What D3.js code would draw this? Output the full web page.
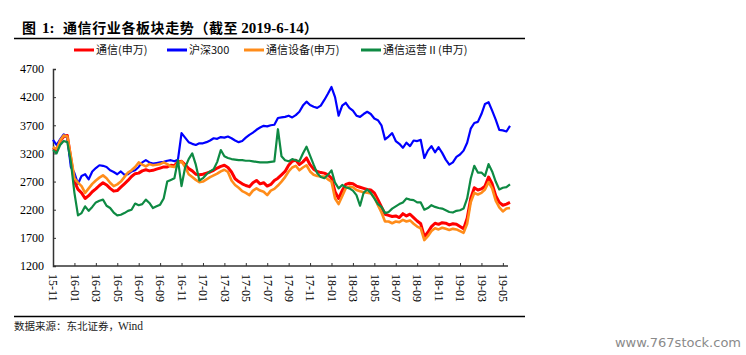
<!DOCTYPE html>
<html><head><meta charset="utf-8">
<script src="https://cdn.jsdelivr.net/npm/d3@7/dist/d3.min.js"></script>
<style>
body{margin:0;background:#fff;}
svg{display:block;}
.serif{font-family:"Liberation Serif","Times New Roman",serif;}
.cjk{font-family:"Noto Sans CJK SC","Noto Sans",sans-serif;}
</style></head>
<body><svg id="c" width="746" height="355"></svg>
<script>
const tickLabels = ["15-11","16-01","16-03","16-05","16-07","16-09","16-11","17-01","17-03","17-05","17-07","17-09","17-11","18-01","18-03","18-05","18-07","18-09","18-11","19-01","19-03","19-05"];
const yTicks = [1200,1700,2200,2700,3200,3700,4200,4700];
const seriesNames = ["通信(申万)","沪深300","通信设备(申万)","通信运营Ⅱ(申万)"];
const seriesColors = ["#FF0000","#0000FF","#FF8C1A","#0E8A43"];

const telecom = [3300,3260,3420,3500,3520,3100,2700,2560,2500,2400,2450,2520,2570,2630,2680,2640,2580,2530,2540,2600,2660,2720,2790,2840,2850,2890,2910,2890,2900,2920,2940,2960,2960,2990,2980,3050,3060,3000,2930,2890,2830,2820,2830,2850,2870,2900,2940,2970,2990,2950,2870,2750,2700,2660,2630,2610,2680,2720,2660,2680,2620,2650,2720,2760,2820,2880,2990,3060,3080,3000,3050,3120,3000,2920,2880,2860,2850,2820,2760,2520,2400,2540,2650,2670,2660,2620,2600,2580,2560,2550,2500,2380,2250,2120,2100,2080,2090,2060,2130,2090,2120,2060,2000,1950,1720,1800,1900,1960,1940,1970,1960,1930,1950,1940,1900,1860,2050,2400,2590,2550,2570,2620,2780,2660,2450,2330,2280,2300,2330];
const hs300 = [3440,3350,3450,3540,3480,2960,2850,2660,2800,2830,2740,2880,2940,2990,2980,2960,2900,2870,2830,2880,2820,2830,2880,2900,2960,3040,3080,3040,3020,3030,3040,3050,3070,3080,3060,3090,3560,3480,3400,3370,3350,3380,3380,3400,3430,3470,3460,3490,3480,3500,3470,3430,3400,3420,3480,3530,3570,3620,3660,3690,3680,3700,3710,3830,3840,3850,3870,3840,3880,3940,4050,4120,4060,4030,4010,4050,4150,4260,4380,4200,3870,4050,4100,4010,3960,3870,3850,3900,3940,3900,3820,3790,3700,3450,3500,3560,3420,3370,3300,3390,3330,3430,3420,3440,3120,3250,3330,3220,3310,3210,3090,3000,3040,3140,3180,3250,3390,3640,3740,3760,3900,4080,4110,3960,3800,3620,3610,3590,3690];
const equipment = [3310,3280,3430,3520,3500,3150,2760,2680,2620,2500,2580,2660,2720,2770,2810,2760,2680,2620,2650,2700,2780,2860,2900,2960,3040,3000,2970,3010,2990,3000,3010,3040,3010,2970,2960,3020,3060,2960,2830,2780,2730,2690,2700,2740,2780,2810,2840,2880,2910,2870,2720,2640,2590,2530,2500,2460,2540,2580,2540,2520,2460,2540,2570,2630,2700,2780,2880,2950,2980,2900,2950,2990,2880,2820,2800,2790,2790,2740,2700,2400,2300,2440,2580,2610,2600,2550,2530,2510,2500,2490,2420,2280,2150,1990,1990,1960,1990,1980,2020,1990,2010,1950,1900,1870,1660,1730,1820,1870,1850,1880,1860,1840,1860,1850,1820,1790,1950,2330,2500,2470,2500,2560,2690,2580,2360,2240,2170,2220,2230];
const operators = [3260,3200,3350,3420,3400,3050,2500,2100,2140,2260,2180,2250,2330,2360,2380,2270,2230,2150,2100,2110,2140,2180,2200,2310,2280,2300,2380,2320,2230,2260,2290,2400,2700,2730,2760,3080,2620,2950,3100,3200,3000,2720,2760,2830,2880,2920,3050,3260,3150,3120,3100,3090,3080,3080,3070,3070,3060,3050,3040,3040,3040,3050,3060,3630,3150,3080,3060,3100,3080,3060,3200,3320,3160,3000,2850,2780,2760,2820,2900,2680,2580,2640,2600,2580,2540,2460,2270,2500,2560,2500,2400,2300,2250,2140,2160,2220,2260,2300,2330,2400,2380,2370,2330,2330,2200,2230,2280,2250,2230,2220,2190,2160,2150,2180,2190,2220,2400,2750,2980,2860,2860,2800,3010,2880,2700,2560,2590,2600,2650];

(function(){
const series = [telecom, hs300, equipment, operators];
const widths = [3, 2.2, 2.6, 2.2];
const pointsPerLabel = 6;

const svg = d3.select("#c");
const mL = 53, mR = 510, mT = 69, mB = 266;
const x = d3.scaleLinear().domain([0, telecom.length - 1]).range([mL, mR]);
const y = d3.scaleLinear().domain([1200, 4700]).range([mB, mT]);

// title
svg.append("text").attr("x", 22).attr("y", 33).attr("class","cjk").attr("font-size", 14).attr("font-weight","bold").text("图");
svg.append("text").attr("x", 42).attr("y", 33).attr("class","serif").attr("font-size", 15).attr("font-weight","bold").text("1:");
const tt = svg.append("text").attr("x", 63).attr("y", 33).attr("font-weight","bold");
tt.append("tspan").attr("class","cjk").attr("font-size",14).attr("letter-spacing",0.6).text("通信行业各板块走势（截至");
tt.append("tspan").attr("class","serif").attr("font-size",15).attr("dx",3).text("2019-6-14");
tt.append("tspan").attr("class","cjk").attr("font-size",14).text("）");
svg.append("line").attr("x1",14).attr("x2",525).attr("y1",38.5).attr("y2",38.5).attr("stroke","#000").attr("stroke-width",1.5);

// legend
const legX = [74, 167, 244, 361];
seriesNames.forEach((n,i)=>{
  svg.append("line").attr("x1",legX[i]).attr("x2",legX[i]+20).attr("y1",50).attr("y2",50)
    .attr("stroke",seriesColors[i]).attr("stroke-width",3);
  svg.append("text").attr("x",legX[i]+22).attr("y",54).attr("class","cjk").attr("font-size",11).attr("fill","#111").text(n);
});

// axes
const yAxis = d3.axisRight(y).tickValues(yTicks).tickSize(3).tickFormat(d=>d);
const yg = svg.append("g").attr("transform",`translate(${mL},0)`).call(yAxis);
yg.attr("font-family",null).attr("font-size",null);
yg.select(".domain").attr("stroke","#333").attr("stroke-width",1.5);
yg.selectAll(".tick line").attr("stroke","#333");
yg.selectAll(".tick text").attr("x",-9).attr("text-anchor","end").attr("class","serif").attr("font-size",12).attr("fill","#000");

const tickIdx = tickLabels.map((_,i)=>i*pointsPerLabel);
const xAxis = d3.axisTop(x).tickValues(tickIdx).tickSize(3).tickFormat((d,i)=>tickLabels[i]);
const xg = svg.append("g").attr("transform",`translate(0,${mB})`).call(xAxis);
xg.attr("font-family",null).attr("font-size",null);
xg.select(".domain").attr("stroke","#333").attr("stroke-width",1.5).attr("d",`M${mL},0H${mR - 2}`);
xg.selectAll(".tick line").attr("stroke","#333");
xg.selectAll(".tick text").attr("class","serif").attr("font-size",12).attr("fill","#000")
  .attr("transform","rotate(90)").attr("x",8).attr("y",0).attr("dy","0.35em").attr("text-anchor","start");

// lines
const line = d3.line().x((d,i)=>x(i)).y(d=>y(d)).curve(d3.curveLinear);
series.forEach((s,i)=>{
  svg.append("path").datum(s).attr("d",line).attr("fill","none")
    .attr("stroke",seriesColors[i]).attr("stroke-width",widths[i]).attr("stroke-linejoin","round");
});

// footer
svg.append("line").attr("x1",14).attr("x2",525).attr("y1",316.5).attr("y2",316.5).attr("stroke","#000").attr("stroke-width",1.5);
svg.append("text").attr("x",14).attr("y",330).attr("class","cjk").attr("font-size",10.5).attr("fill","#222").text("数据来源：东北证券，");
svg.append("text").attr("x",118).attr("y",330).attr("class","serif").attr("font-size",11.5).attr("fill","#222").text("Wind");
svg.append("text").attr("x",741).attr("y",347).attr("text-anchor","end").attr("font-family","'DejaVu Sans',sans-serif").attr("font-size",13).attr("fill","#8a8a8a").text("www.767stock.com");
})();
</script></body></html>
